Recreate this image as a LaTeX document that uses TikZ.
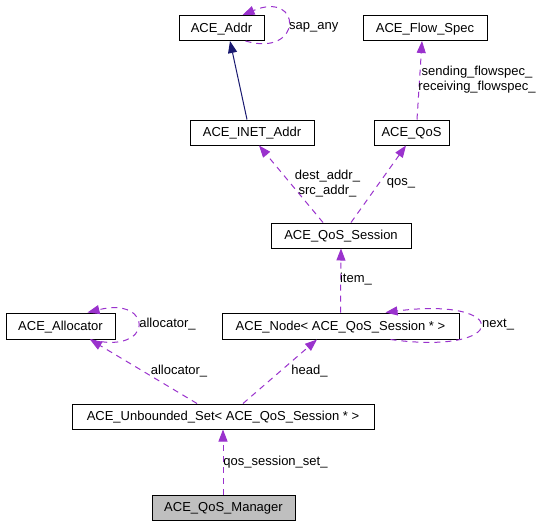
\documentclass[tikz,border=0pt]{standalone}
\usepackage{fontspec}
\setmainfont{Liberation Sans}
\usetikzlibrary{arrows.meta}
\definecolor{purp}{HTML}{9A32CD}
\definecolor{navyb}{HTML}{191970}
\definecolor{mgrgray}{HTML}{BFBFBF}
\begin{document}
\begin{tikzpicture}[x=1pt,y=-1pt,
  cls/.style={draw=black, line width=1pt, fill=white, inner sep=0pt, minimum height=25pt,
    font=\fontsize{13pt}{15pt}\selectfont, text height=9.5pt, text depth=1.5pt},
  lbl/.style={inner sep=0pt, font=\fontsize{13pt}{15pt}\selectfont, align=center},
  uses/.style={draw=purp, line width=1pt, dash pattern=on 6pt off 5pt,
    -{Triangle[length=12pt,width=9pt]}},
  inh/.style={draw=navyb, line width=1pt, -{Triangle[length=12pt,width=9pt]}}]
\fill[white] (0,0) rectangle (551,525);
\useasboundingbox (0,0) rectangle (551,525);
% classes
\node[cls, minimum width=85pt]  (addr)    at (221.5,28)  {ACE\_Addr};
\node[cls, minimum width=124pt] (flow)    at (425,28)    {ACE\_Flow\_Spec};
\node[cls, minimum width=124pt] (inet)    at (252,132.5) {ACE\_INET\_Addr};
\node[cls, minimum width=75pt]  (qos)     at (411.5,132.5) {ACE\_QoS};
\node[cls, minimum width=140pt] (session) at (341,235.5) {ACE\_QoS\_Session};
\node[cls, minimum width=109pt, minimum height=26pt] (alloc) at (60.5,326) {ACE\_Allocator};
\node[cls, minimum width=237pt, minimum height=26pt] (cnode) at (340.5,326) {ACE\_Node< ACE\_QoS\_Session * >};
\node[cls, minimum width=302pt] (uset)    at (223,416.5) {ACE\_Unbounded\_Set< ACE\_QoS\_Session * >};
\node[cls, minimum width=143pt, fill=mgrgray] (mgr) at (223.5,507.5) {ACE\_QoS\_Manager};
% inheritance
\draw[inh] ([xshift=-5pt]inet.north) -- ([xshift=8.5pt]addr.south);
% usage
\draw[uses] ([xshift=24pt]addr.south) .. controls (303,58) and (303,-10) .. ([xshift=21pt]addr.north);
\node[lbl, anchor=west] (lsap) at (289,27) {sap\_any};
\draw[uses] ([xshift=5.5pt]qos.north) -- ([xshift=-3pt]flow.south);
\node[lbl] (lflow) at (477,80) {sending\_flowspec\_\\receiving\_flowspec\_};
\draw[uses] ([xshift=-18pt]session.north) -- ([xshift=7pt]inet.south);
\node[lbl] (laddr) at (327.5,183.5) {dest\_addr\_\\src\_addr\_};
\draw[uses] ([xshift=10pt]session.north) -- ([xshift=-5.5pt]qos.south);
\node[lbl] (lqos) at (401,183) {qos\_};
\draw[uses] (cnode.north) -- (session.south);
\node[lbl] (litem) at (356,279) {item\_};
\draw[uses] ([xshift=50pt]cnode.south) .. controls (511,356) and (511,296) .. ([xshift=45pt]cnode.north);
\node[lbl, anchor=west] (lnext) at (482,325) {next\_};
\draw[uses] ([xshift=30pt]alloc.south) .. controls (154,356) and (154,296) .. ([xshift=27pt]alloc.north);
\node[lbl] (lalloc1) at (167.5,324) {allocator\_};
\draw[uses] ([xshift=-26pt]uset.north) -- ([xshift=29.5pt]alloc.south);
\node[lbl] (lalloc2) at (179,371) {allocator\_};
\draw[uses] ([xshift=20pt]uset.north) -- ([xshift=-23.5pt]cnode.south);
\node[lbl] (lhead) at (309.5,371) {head\_};
\draw[uses] ([xshift=-0.5pt]mgr.north) -- (uset.south);
\node[lbl] (lset) at (275.5,462) {qos\_session\_set\_};
\end{tikzpicture}
\end{document}
